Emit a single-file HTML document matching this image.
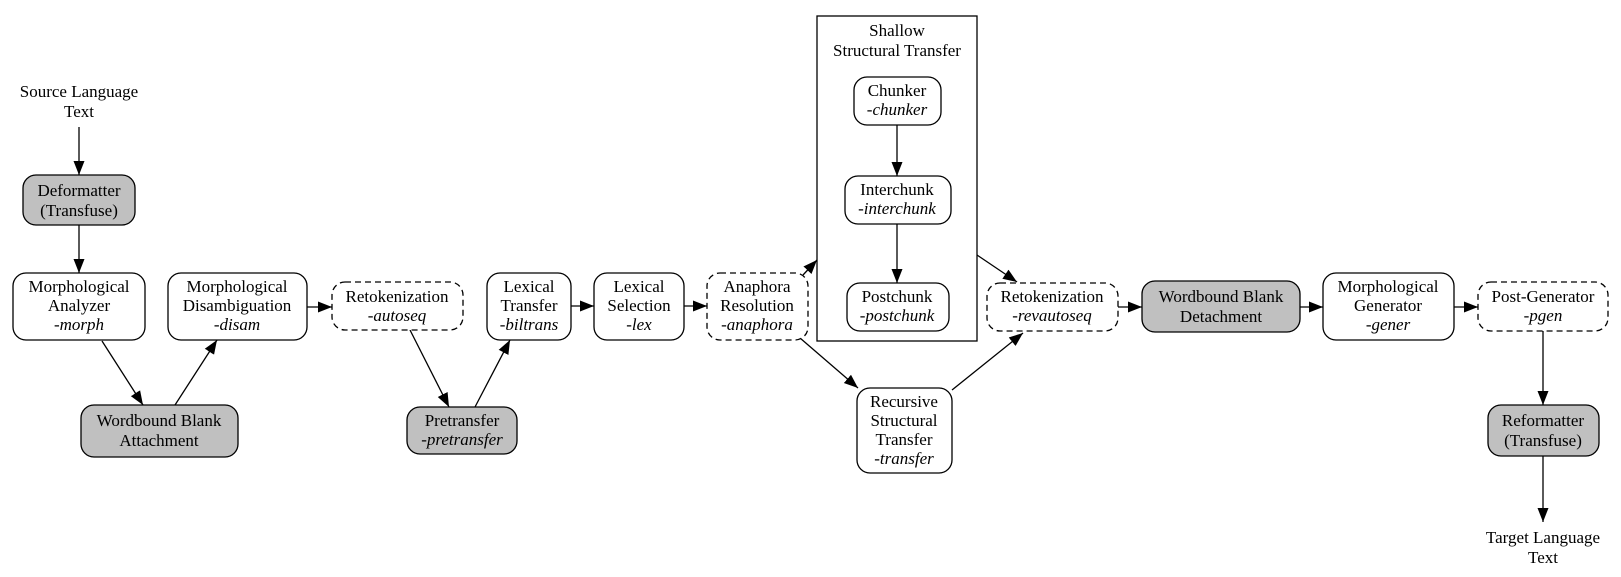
<!DOCTYPE html>
<html><head><meta charset="utf-8"><style>
html,body{margin:0;padding:0;background:#fff;}
svg{display:block;}
text{font-family:"Liberation Serif",serif;font-size:17px;fill:#000;text-anchor:middle;}
.i{font-style:italic;}
.n{fill:#fff;stroke:#000;stroke-width:1.3;}
.g{fill:#c0c0c0;stroke:#000;stroke-width:1.3;}
.d{fill:#fff;stroke:#000;stroke-width:1.3;stroke-dasharray:6,4;}
.e{stroke:#000;stroke-width:1.3;fill:none;}
</style></head><body>
<svg width="1621" height="577" viewBox="0 0 1621 577" xmlns="http://www.w3.org/2000/svg">
<defs>
<marker id="a" markerUnits="userSpaceOnUse" markerWidth="16" markerHeight="14" refX="14" refY="7" orient="auto">
<path d="M0,1.5 L14,7 L0,12.5 Z" fill="#000"/>
</marker>
</defs>

<rect x="817" y="16" width="160" height="325" fill="none" stroke="#000" stroke-width="1.3"/>
<text x="897" y="36">Shallow</text>
<text x="897" y="56">Structural Transfer</text>

<line class="e" x1="79" y1="127" x2="79" y2="175" marker-end="url(#a)"/>
<line class="e" x1="79" y1="225" x2="79" y2="273" marker-end="url(#a)"/>
<line class="e" x1="102" y1="341" x2="143" y2="405" marker-end="url(#a)"/>
<line class="e" x1="175" y1="405" x2="217" y2="340" marker-end="url(#a)"/>
<line class="e" x1="307" y1="307" x2="332" y2="307" marker-end="url(#a)"/>
<line class="e" x1="410" y1="330" x2="449" y2="407" marker-end="url(#a)"/>
<line class="e" x1="475" y1="407" x2="510" y2="340" marker-end="url(#a)"/>
<line class="e" x1="571" y1="306" x2="594" y2="306" marker-end="url(#a)"/>
<line class="e" x1="684" y1="306" x2="707" y2="306" marker-end="url(#a)"/>
<line class="e" x1="803" y1="275" x2="817" y2="260" marker-end="url(#a)"/>
<line class="e" x1="800" y1="338" x2="858" y2="388" marker-end="url(#a)"/>
<line class="e" x1="977" y1="255" x2="1017" y2="282" marker-end="url(#a)"/>
<line class="e" x1="952" y1="390" x2="1023" y2="333" marker-end="url(#a)"/>
<line class="e" x1="1118" y1="307" x2="1142" y2="307" marker-end="url(#a)"/>
<line class="e" x1="1300" y1="307" x2="1323" y2="307" marker-end="url(#a)"/>
<line class="e" x1="1454" y1="307" x2="1478" y2="307" marker-end="url(#a)"/>
<line class="e" x1="1543" y1="331" x2="1543" y2="405" marker-end="url(#a)"/>
<line class="e" x1="1543" y1="456" x2="1543" y2="522" marker-end="url(#a)"/>
<line class="e" x1="897" y1="125" x2="897" y2="176" marker-end="url(#a)"/>
<line class="e" x1="897" y1="224" x2="897" y2="283" marker-end="url(#a)"/>

<text x="79" y="97">Source Language</text>
<text x="79" y="117">Text</text>

<rect class="g" x="23" y="175" width="112" height="50" rx="13"/>
<text x="79" y="196">Deformatter</text>
<text x="79" y="216">(Transfuse)</text>

<rect class="n" x="13" y="273" width="132" height="67" rx="13"/>
<text x="79" y="292">Morphological</text>
<text x="79" y="311">Analyzer</text>
<text x="79" y="330" class="i">-morph</text>

<rect class="n" x="168" y="273" width="139" height="67" rx="13"/>
<text x="237" y="292">Morphological</text>
<text x="237" y="311">Disambiguation</text>
<text x="237" y="330" class="i">-disam</text>

<rect class="d" x="332" y="282" width="131" height="48" rx="13"/>
<text x="397" y="302">Retokenization</text>
<text x="397" y="321" class="i">-autoseq</text>

<rect class="g" x="81" y="405" width="157" height="52" rx="13"/>
<text x="159" y="426">Wordbound Blank</text>
<text x="159" y="446">Attachment</text>

<rect class="g" x="407" y="407" width="110" height="47" rx="13"/>
<text x="462" y="426">Pretransfer</text>
<text x="462" y="445" class="i">-pretransfer</text>

<rect class="n" x="487" y="273" width="84" height="67" rx="13"/>
<text x="529" y="292">Lexical</text>
<text x="529" y="311">Transfer</text>
<text x="529" y="330" class="i">-biltrans</text>

<rect class="n" x="594" y="273" width="90" height="67" rx="13"/>
<text x="639" y="292">Lexical</text>
<text x="639" y="311">Selection</text>
<text x="639" y="330" class="i">-lex</text>

<rect class="d" x="707" y="273" width="101" height="67" rx="13"/>
<text x="757" y="292">Anaphora</text>
<text x="757" y="311">Resolution</text>
<text x="757" y="330" class="i">-anaphora</text>

<rect class="n" x="854" y="77" width="87" height="48" rx="13"/>
<text x="897" y="96">Chunker</text>
<text x="897" y="115" class="i">-chunker</text>

<rect class="n" x="845" y="176" width="106" height="48" rx="13"/>
<text x="897" y="195">Interchunk</text>
<text x="897" y="214" class="i">-interchunk</text>

<rect class="n" x="847" y="283" width="102" height="48" rx="13"/>
<text x="897" y="302">Postchunk</text>
<text x="897" y="321" class="i">-postchunk</text>

<rect class="n" x="857" y="388" width="95" height="85" rx="13"/>
<text x="904" y="407">Recursive</text>
<text x="904" y="426">Structural</text>
<text x="904" y="445">Transfer</text>
<text x="904" y="464" class="i">-transfer</text>

<rect class="d" x="987" y="283" width="131" height="48" rx="13"/>
<text x="1052" y="302">Retokenization</text>
<text x="1052" y="321" class="i">-revautoseq</text>

<rect class="g" x="1142" y="281" width="158" height="51" rx="13"/>
<text x="1221" y="302">Wordbound Blank</text>
<text x="1221" y="322">Detachment</text>

<rect class="n" x="1323" y="273" width="131" height="67" rx="13"/>
<text x="1388" y="292">Morphological</text>
<text x="1388" y="311">Generator</text>
<text x="1388" y="330" class="i">-gener</text>

<rect class="d" x="1478" y="282" width="130" height="49" rx="13"/>
<text x="1543" y="302">Post-Generator</text>
<text x="1543" y="321" class="i">-pgen</text>

<rect class="g" x="1488" y="405" width="111" height="51" rx="13"/>
<text x="1543" y="426">Reformatter</text>
<text x="1543" y="446">(Transfuse)</text>

<text x="1543" y="543">Target Language</text>
<text x="1543" y="563">Text</text>
</svg>
</body></html>
